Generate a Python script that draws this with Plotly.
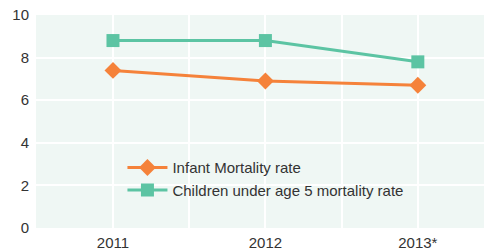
import plotly.graph_objects as go

years = [2011, 2012, 2013]
year_labels = ["2011", "2012", "2013*"]
infant = [7.4, 6.9, 6.7]
under5 = [8.8, 8.8, 7.8]
y_ticks = [0, 2, 4, 6, 8, 10]

orange = "#F5823A"
teal = "#5CC4A3"

fig = go.Figure()
fig.add_trace(go.Scatter(
    x=years, y=infant, name="Infant Mortality rate", mode="lines+markers",
    line=dict(color=orange, width=3),
    marker=dict(symbol="diamond", size=13, color=orange),
))
fig.add_trace(go.Scatter(
    x=years, y=under5, name="Children under age 5 mortality rate", mode="lines+markers",
    line=dict(color=teal, width=3),
    marker=dict(symbol="square", size=13, color=teal),
))

# page body has an 8px margin, so the figure is drawn at (8, 8)
fig.update_layout(
    width=484, height=243,
    margin=dict(l=28, r=1, t=7, b=23, autoexpand=False),
    paper_bgcolor="white",
    plot_bgcolor="#EFF7F4",
    font=dict(family="Liberation Sans, Arial, sans-serif", size=15, color="#333333"),
    showlegend=True,
    legend=dict(
        x=0.19, y=0.36, xanchor="left", yanchor="top",
        bgcolor="rgba(0,0,0,0)", font=dict(size=15, color="#333333"),
        itemwidth=40, tracegroupgap=0,
    ),
    xaxis=dict(
        range=[2010.495, 2013.48], tickvals=years, ticktext=year_labels,
        showgrid=True, gridcolor="white", gridwidth=1.5, zeroline=False,
        minor=dict(dtick=0.5, tick0=2010, showgrid=True, gridcolor="white", gridwidth=1.5),
        ticks="", showline=False, ticklabelstandoff=4, ticklabeloverflow="allow",
    ),
    yaxis=dict(
        range=[0, 10], tickvals=y_ticks, showgrid=True, gridcolor="white", gridwidth=1.5,
        zeroline=False, ticks="", showline=False, ticklabelstandoff=6,
        ticklabeloverflow="allow",
    ),
)

fig.write_html("out.html")
